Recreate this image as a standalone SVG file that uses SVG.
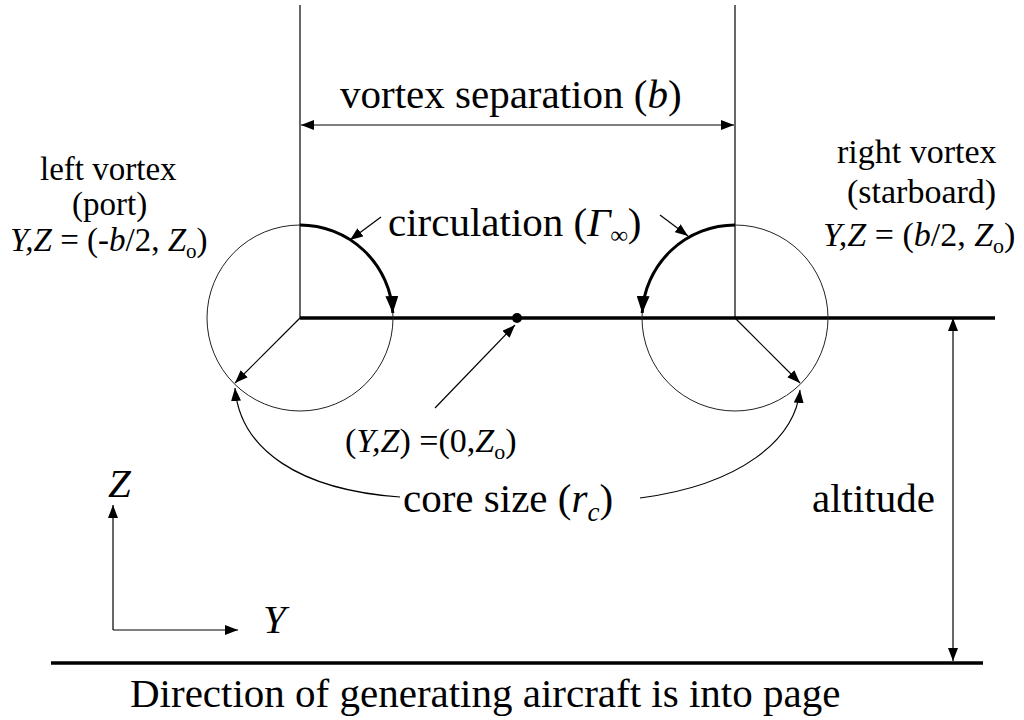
<svg xmlns="http://www.w3.org/2000/svg" width="1024" height="720" viewBox="0 0 1024 720">
<style>
text{font-family:"Liberation Serif","Times New Roman",serif;fill:#000}
.big{font-size:41px}
.sm{font-size:34px}
.it{font-style:italic}
.thin{stroke:#000;stroke-width:1.2;fill:none}
.circ{stroke:#222;stroke-width:1;fill:none}
.thick{stroke:#000;stroke-width:3.5;fill:none}
.arc{stroke:#000;stroke-width:3;fill:none}
</style>
<defs>
<marker id="ah" markerUnits="userSpaceOnUse" markerWidth="13" markerHeight="10" refX="13" refY="5" orient="auto-start-reverse" viewBox="0 0 13 10">
<path d="M0,0 L13,5 L0,10 z" fill="#000"/>
</marker>
<marker id="ahb" markerUnits="userSpaceOnUse" markerWidth="17" markerHeight="13" refX="17" refY="6.5" orient="auto" viewBox="0 0 17 13">
<path d="M0,0 L17,6.5 L0,13 z" fill="#000"/>
</marker>
</defs>
<rect width="1024" height="720" fill="#fff"/>

<g id="geometry">
<line class="thin" x1="300" y1="5" x2="300" y2="318"/>
<line class="thin" x1="735" y1="5" x2="735" y2="318"/>
<line class="thick" x1="300" y1="318" x2="995" y2="318"/>
<line class="thick" x1="51" y1="663" x2="983" y2="663"/>
</g>

<g id="left-vortex">
<circle class="circ" cx="300" cy="318" r="93"/>
</g>
<g id="right-vortex">
<circle class="circ" cx="735" cy="318" r="93"/>
</g>
<g id="center-point">
<circle cx="517" cy="318" r="5" fill="#000"/>
</g>

<g id="connectors">
<line class="thin" x1="301" y1="125" x2="734" y2="125" marker-start="url(#ah)" marker-end="url(#ah)"/>
<path class="arc" d="M300,225 A93,93 0 0 1 392.8,313" marker-end="url(#ahb)"/>
<path class="arc" d="M735,225 A93,93 0 0 0 642.2,313" marker-end="url(#ahb)"/>
<line class="thin" x1="381" y1="217" x2="350" y2="240" marker-end="url(#ah)"/>
<line class="thin" x1="660" y1="215" x2="688" y2="236" marker-end="url(#ah)"/>
<line class="thin" x1="300" y1="318" x2="235" y2="383" marker-end="url(#ah)"/>
<line class="thin" x1="735" y1="318" x2="800" y2="383" marker-end="url(#ah)"/>
<line class="thin" x1="435" y1="408" x2="515" y2="325" marker-end="url(#ah)"/>
<path class="thin" d="M400,497 C300,490 240,450 235,388" marker-end="url(#ah)"/>
<path class="thin" d="M640,498 C740,485 795,440 800,390" marker-end="url(#ah)"/>
<line class="thin" x1="953" y1="325" x2="953" y2="318" marker-end="url(#ah)"/>
<line class="thin" x1="953" y1="325" x2="953" y2="661" marker-end="url(#ah)"/>
<line class="thin" x1="113" y1="630" x2="113" y2="505" marker-end="url(#ah)"/>
<line class="thin" x1="113" y1="630" x2="238" y2="630" marker-end="url(#ah)"/>
</g>

<g id="labels">
<text class="big" x="340" y="108">vortex separation (<tspan class="it">b</tspan>)</text>
<text class="big" x="388" y="236">circulation (<tspan class="it">Γ</tspan><tspan font-size="24" dy="7" class="it">∞</tspan><tspan dy="-7">)</tspan></text>
<text class="sm" x="345" y="452">(<tspan class="it">Y,Z</tspan>) =(0,<tspan class="it">Z</tspan><tspan font-size="22" dy="7">o</tspan><tspan dy="-7">)</tspan></text>
<text class="big" x="403" y="512">core size (<tspan class="it">r</tspan><tspan font-size="27" dy="9" class="it">c</tspan><tspan dy="-9">)</tspan></text>
<text class="big" x="812" y="512">altitude</text>
<text class="big" x="130" y="707">Direction of generating aircraft is into page</text>
<text class="big it" x="108" y="497">Z</text>
<text class="big it" x="263" y="633">Y</text>
<g font-size="33">
<text x="40" y="180">left vortex</text>
<text x="72" y="215">(port)</text>
<text x="10" y="251"><tspan class="it">Y,Z</tspan> = (-<tspan class="it">b</tspan>/2, <tspan class="it">Z</tspan><tspan font-size="21" dy="7">o</tspan><tspan dy="-7">)</tspan></text>
</g>
<text class="sm" x="837" y="163">right vortex</text>
<text class="sm" x="847" y="203">(starboard)</text>
<text class="sm" x="823" y="246"><tspan class="it">Y,Z</tspan> = (<tspan class="it">b</tspan>/2, <tspan class="it">Z</tspan><tspan font-size="22" dy="7">o</tspan><tspan dy="-7">)</tspan></text>
</g>
</svg>
